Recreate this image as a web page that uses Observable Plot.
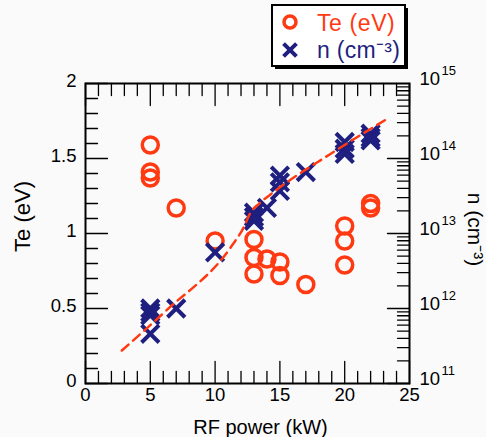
<!DOCTYPE html>
<html>
<head>
<meta charset="utf-8">
<script src="https://cdn.jsdelivr.net/npm/d3@7"></script>
<script src="https://cdn.jsdelivr.net/npm/@observablehq/plot@0.6"></script>
<style>
  body { margin: 0; background: #fafafa; }
  #wrap { position: relative; width: 486px; height: 437px; }
  #legend { position: absolute; left: 271px; top: 4px; }
</style>
</head>
<body>
<div id="wrap"></div>
<script>
// Electron temperature vs RF power
const tePower = [5, 5, 5, 7, 10, 13, 13, 13, 14, 15, 15, 17, 20, 20, 20, 22, 22];
const teValue = [1.59, 1.41, 1.37, 1.17, 0.95, 0.96, 0.84, 0.73, 0.83, 0.81, 0.72, 0.66, 1.05, 0.95, 0.79, 1.2, 1.17];

// Plasma density vs RF power (cm^-3)
const nPower = [5, 5, 5, 5, 7, 10, 13, 13, 13, 14, 15, 15, 15, 17, 20, 20, 20, 22, 22, 22];
const nValue = [1.0e12, 8.9e11, 8.1e11, 4.6e11, 1.0e12, 5.6e12, 1.9e13, 1.66e13, 1.48e13, 2.2e13,
                5.9e13, 4.8e13, 3.7e13, 6.6e13, 1.66e14, 1.35e14, 1.15e14, 2.14e14, 1.9e14, 1.74e14];

// Guide curve through the density data
const fitPower = [2.8, 6.2, 11.3, 12.2, 12.7, 13.4, 14.5, 18.9, 23.3];
const fitDensity = [2.75e11, 9.3e11, 6.9e12, 1.2e13, 1.86e13, 2.5e13, 3.55e13, 1.15e14, 3.4e14];

// Axis ticks
const xTicks = [0, 5, 10, 15, 20, 25];
const teTicks = [0, 0.5, 1, 1.5, 2];
const nExponents = [11, 12, 13, 14, 15];

const red = "#ff3a12";
const navy = "#1f1f80";
const font = "'Liberation Sans', Arial, sans-serif";

// Density is drawn on the Te scale: 1e11 -> 0, 1e15 -> 2 (two units per four decades)
const nToY = n => (Math.log10(n) - 11) / 2;

const teData = tePower.map((p, i) => ({p, v: teValue[i]}));
const nData = nPower.map((p, i) => ({p, v: nToY(nValue[i])}));
const fitData = fitPower.map((p, i) => ({p, v: nToY(fitDensity[i])}));

const xMinor = d3.range(0, 26, 1);
const teMinor = d3.range(0, 21, 1).map(d => d / 10);
const nMinor = [];
for (let e = 11; e < 15; e++) for (let k = 1; k <= 9; k++) nMinor.push(nToY(k * 10 ** e));
const nMajor = nExponents.map(e => (e - 11) / 2);

// Straight tick line for vector marks
const tickShape = {draw(ctx, l) { ctx.moveTo(0, 0); ctx.lineTo(0, -l); }};
const tickMarks = (values, anchor, rotate, isMajor) => Plot.vector(values, {
  [anchor === "left" || anchor === "right" ? "y" : "x"]: d => d,
  frameAnchor: anchor, rotate, anchor: "start", shape: tickShape,
  length: d => isMajor(d) ? 5.5 : 3, stroke: "black", strokeWidth: 1.3
});
const near = (a, b) => Math.abs(a - b) < 1e-9;

// Centered axis title
const title = (label, options) => Plot.text([label], {text: d => d, textAnchor: "middle", lineAnchor: "middle", ...options});

const chart = Plot.plot({
  width: 486,
  height: 437,
  marginLeft: 85,
  marginRight: 77,
  marginTop: 83,
  marginBottom: 54,
  style: {fontFamily: font, fontSize: "18.5px", background: "transparent", color: "black"},
  x: {domain: [0, 25]},
  y: {domain: [0, 2]},
  marks: [
    Plot.frame({stroke: "black", strokeWidth: 2}),
    tickMarks(xMinor, "bottom", 0, d => d % 5 === 0),
    tickMarks(xMinor, "top", 180, d => d % 5 === 0),
    tickMarks(teMinor, "left", 90, d => teTicks.some(t => near(t, d))),
    tickMarks(nMinor, "right", -90, d => nMajor.some(t => near(t, d))),
    Plot.axisX({ticks: xTicks, tickSize: 0, tickPadding: 4, label: null}),
    Plot.axisY({ticks: teTicks, tickSize: 0, tickPadding: 9, label: null, dy: -2, tickFormat: d => String(d)}),
    // Right-hand density axis labels: 10 with a raised exponent
    Plot.text(nExponents, {y: e => (e - 11) / 2, frameAnchor: "right", text: () => "10",
      textAnchor: "start", dx: 10, dy: -4, fontSize: 18.5}),
    Plot.text(nExponents, {y: e => (e - 11) / 2, frameAnchor: "right", text: e => String(e),
      textAnchor: "start", dx: 32, dy: -13, fontSize: 13}),
    // Axis titles
    title("RF power (kW)", {frameAnchor: "bottom", dx: 13, dy: 44, fontSize: 20, letterSpacing: "1.2px"}),
    title("Te (eV)", {frameAnchor: "left", rotate: -90, dx: -63, dy: -17, fontSize: 22, letterSpacing: "1.5px"}),
    title("n (cm\u207B\u00B3)", {frameAnchor: "right", rotate: 90, dx: 65, dy: -4, fontSize: 21, letterSpacing: "1.5px"}),
    // Data
    Plot.dot(teData, {x: "p", y: "v", r: 8, stroke: red, strokeWidth: 3.5, fill: "none"}),
    Plot.dot(nData, {x: "p", y: "v", r: 8, symbol: "times", stroke: navy, strokeWidth: 4}),
    Plot.line(fitData, {x: "p", y: "v", curve: "monotone-x", stroke: red, strokeWidth: 2.5, strokeDasharray: "9,6"})
  ]
});

const wrap = document.getElementById("wrap");
wrap.append(chart);

// Legend box with drop shadow
const legend = d3.create("svg").attr("id", "legend").attr("width", 140).attr("height", 68)
  .style("font-family", font);
legend.append("rect").attr("x", 4).attr("y", 4).attr("width", 133).attr("height", 61).attr("fill", "black");
legend.append("rect").attr("x", 1).attr("y", 1).attr("width", 133).attr("height", 61)
  .attr("fill", "white").attr("stroke", "black").attr("stroke-width", 2);
legend.append("circle").attr("cx", 19).attr("cy", 18).attr("r", 6).attr("fill", "none")
  .attr("stroke", red).attr("stroke-width", 3.5);
legend.append("path").attr("d", d3.symbol(d3.symbolTimes, 110)()).attr("transform", "translate(19,46)")
  .attr("stroke", navy).attr("stroke-width", 4);
legend.append("text").attr("x", 46).attr("y", 27).attr("font-size", 23).attr("letter-spacing", "0.6px")
  .attr("fill", red).text("Te (eV)");
legend.append("text").attr("x", 46).attr("y", 54).attr("font-size", 23).attr("letter-spacing", "0.3px")
  .attr("fill", navy).text("n (cm\u207B\u00B3)");
wrap.append(legend.node());
</script>
</body>
</html>
